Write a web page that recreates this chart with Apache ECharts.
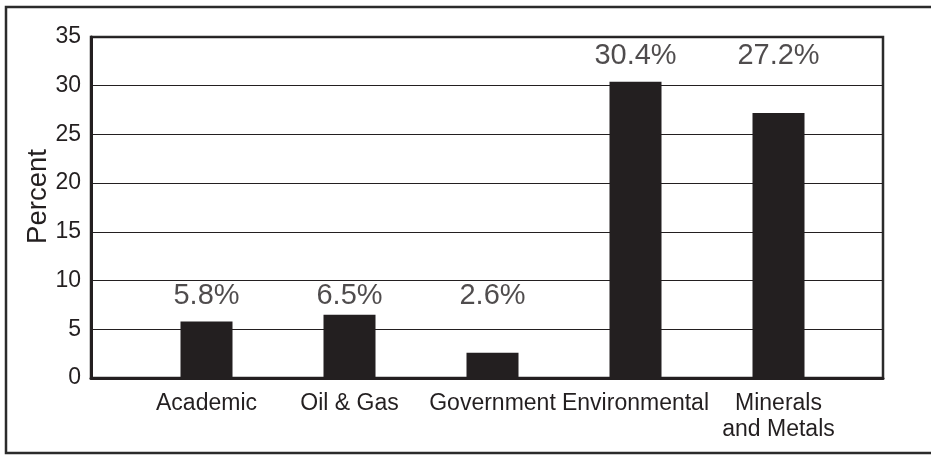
<!DOCTYPE html>
<html>
<head>
<meta charset="utf-8">
<script src="https://cdn.jsdelivr.net/npm/echarts@6/dist/echarts.min.js"></script>
<style>
html,body{margin:0;padding:0;background:#fff;}
#chart{width:931px;height:455px;}
</style>
</head>
<body>
<div id="chart"></div>
<script>
var categories = ['Academic', 'Oil & Gas', 'Government', 'Environmental', 'Minerals\nand Metals'];
var values = [5.8, 6.5, 2.6, 30.4, 27.2];
var yTicks = [0, 5, 10, 15, 20, 25, 30, 35];

var INK = '#231f20';
var FONT = '"Liberation Sans", Arial, Helvetica, sans-serif';
// label rows: labels sit on one of two fixed heights (layout rule)
var labelRow = values.map(function (v) { return v > 20 ? 33 : 8.4; });

var chart = echarts.init(document.getElementById('chart'));
chart.setOption({
  animation: false,
  backgroundColor: '#fff',
  graphic: [{
    type: 'rect',
    shape: { x: 6, y: 7, width: 960, height: 446 },
    style: { fill: 'none', stroke: '#2b2b2b', lineWidth: 2.5 },
    silent: true
  }],
  grid: [
    { left: 91, right: 48, top: 37, bottom: 77, show: true, borderColor: '#2b2b2b', borderWidth: 2.5, backgroundColor: 'transparent' },
    { left: 135, right: 81, top: 37, bottom: 77 }
  ],
  xAxis: [
    { gridIndex: 0, type: 'value', min: 0, max: 1,
      axisLine: { show: true, onZero: false, lineStyle: { color: INK, width: 3 } },
      axisTick: { show: false }, axisLabel: { show: false }, splitLine: { show: false } },
    { gridIndex: 1, type: 'category', data: categories,
      axisLine: { show: false }, axisTick: { show: false },
      axisLabel: { interval: 0, margin: 13, color: INK, fontFamily: FONT, fontSize: 23, lineHeight: 26, align: 'center' } }
  ],
  yAxis: [
    { gridIndex: 0, type: 'value', min: yTicks[0], max: yTicks[yTicks.length - 1], interval: 5,
      name: 'Percent', nameLocation: 'middle', nameGap: 39, nameRotate: 90, nameMoveOverlap: false,
      nameTextStyle: { color: INK, fontFamily: FONT, fontSize: 27.5, padding: [0, 0, 0, 22] },
      axisLine: { show: true, lineStyle: { color: INK, width: 3 } },
      axisTick: { show: false },
      axisLabel: { margin: 10, color: INK, fontFamily: FONT, fontSize: 23 },
      splitLine: { show: true, lineStyle: { color: INK, width: 1 } } },
    { gridIndex: 1, type: 'value', min: yTicks[0], max: yTicks[yTicks.length - 1], show: false }
  ],
  series: [
    { type: 'bar', xAxisIndex: 1, yAxisIndex: 1, data: values, barWidth: 52,
      itemStyle: { color: INK } },
    { type: 'scatter', xAxisIndex: 1, yAxisIndex: 1, data: labelRow, symbolSize: 1,
      itemStyle: { color: 'rgba(255,255,255,0)' }, silent: true,
      label: { show: true, position: 'inside', color: INK, fontFamily: FONT, fontSize: 29,
        formatter: function (p) { return values[p.dataIndex].toFixed(1) + '%'; } } }
  ]
});
</script>
</body>
</html>
